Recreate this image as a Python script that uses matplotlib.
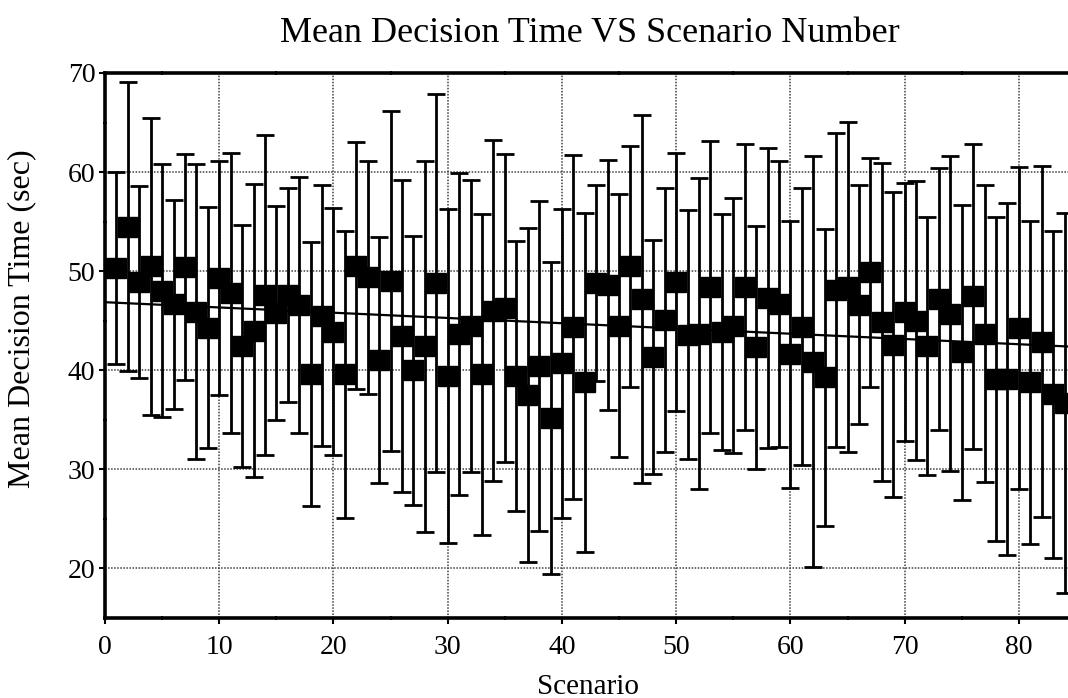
import numpy as np
import matplotlib
matplotlib.use("Agg")
import matplotlib.pyplot as plt
from matplotlib.ticker import MultipleLocator

# ---- data ----
scenario = list(range(1, 85))
mean_time = [50.3, 54.5, 48.9, 50.5, 48.05, 46.65, 50.4, 45.9, 44.3, 49.3,
             47.8, 42.45, 44.0, 47.55, 45.8, 47.6, 46.6, 39.6, 45.5, 43.9,
             39.6, 50.55, 49.4, 41.05, 49.05, 43.5, 40.0, 42.4, 48.8, 39.4,
             43.7, 44.45, 39.6, 46.0, 46.3, 39.4, 37.5, 40.4, 35.2, 40.7,
             44.4, 38.8, 48.8, 48.6, 44.5, 50.5, 47.2, 41.3, 45.1, 48.9,
             43.6, 43.7, 48.4, 43.85, 44.5, 48.4, 42.3, 47.3, 46.7, 41.6,
             44.4, 40.85, 39.3, 48.1, 48.4, 46.6, 49.9, 44.85, 42.6, 45.9,
             45.0, 42.45, 47.2, 45.7, 41.8, 47.45, 43.7, 39.1, 39.15, 44.25,
             38.8, 42.9, 37.6, 36.7]
std_time = [9.7, 14.6, 9.7, 15.0, 12.75, 10.55, 11.4, 14.9, 12.15, 11.8,
            14.15, 12.25, 14.75, 16.15, 10.8, 10.8, 12.95, 13.3, 13.15, 12.45,
            14.5, 12.45, 11.75, 12.45, 17.15, 15.75, 13.55, 18.7, 19.1, 16.85,
            16.25, 14.75, 16.2, 17.2, 15.55, 13.6, 16.85, 16.65, 15.75, 15.6,
            17.35, 17.1, 9.9, 12.6, 13.3, 12.15, 18.6, 11.8, 13.3, 13.0,
            12.6, 15.7, 14.75, 11.9, 12.85, 14.45, 12.25, 15.1, 14.45, 13.5,
            13.95, 20.75, 15.0, 15.8, 16.65, 12.05, 11.55, 16.05, 15.35, 13.0,
            14.1, 13.0, 13.25, 15.9, 14.9, 15.35, 14.95, 16.35, 17.75, 16.25,
            16.3, 17.7, 16.5, 19.15]
trend_x = [0, 84.3]

title = "Mean Decision Time VS Scenario Number"
xlabel = "Scenario"
ylabel = "Mean Decision Time (sec)"

# ---- figure ----
W, H = 1068, 698
fig = plt.figure(figsize=(W / 100, H / 100), dpi=100)
ax = fig.add_axes([105 / W, 80 / H, (W - 105) / W, 545 / H])

serif = ["Liberation Serif", "DejaVu Serif"]

x = np.array(scenario, dtype=float)
y = np.array(mean_time)
e = np.array(std_time)

ax.errorbar(x, y, yerr=e, fmt="none", ecolor="black", elinewidth=2.0,
            capsize=6.5, capthick=2.0, zorder=3)
ax.plot(x, y, linestyle="none", marker="s", markersize=14,
        markerfacecolor="black", markeredgecolor="black", zorder=4)

# linear trend fitted from the data
coef = np.polyfit(x, y, 1)
tx = np.array(trend_x)
ax.plot(tx, np.polyval(coef, tx), color="black", lw=1.6, zorder=5)

ax.set_xlim(0, 84.3)
ax.set_ylim(15, 70)
ax.xaxis.set_major_locator(MultipleLocator(10))
ax.xaxis.set_minor_locator(MultipleLocator(5))
ax.yaxis.set_major_locator(MultipleLocator(10))
ax.yaxis.set_minor_locator(MultipleLocator(5))

ax.grid(True, which="major", color="0.25", linestyle=(0, (1, 1)), lw=1.1,
        zorder=1)
ax.set_axisbelow(True)

for s in ["left", "bottom", "top"]:
    ax.spines[s].set_linewidth(2.6)
ax.spines["right"].set_visible(False)

ax.tick_params(which="major", direction="out", length=4, width=1.5,
               labelsize=20, top=False, right=False)
ax.tick_params(axis="x", which="major", pad=8)
ax.tick_params(axis="y", which="major", pad=3)
ax.tick_params(which="minor", direction="inout", length=3, width=1.5,
               top=True)
for lab in ax.get_xticklabels() + ax.get_yticklabels():
    lab.set_family(serif)

fig.text(588 / W, 1 - 694 / H, xlabel, ha="center", va="baseline",
         fontsize=21, family=serif)
fig.text(22 / W, 1 - 319 / H, ylabel, ha="center", va="center",
         rotation=90, fontsize=23, family=serif)
fig.text(590 / W, 1 - 34 / H, title, ha="center", va="center",
         fontsize=26, family=serif)

fig.savefig("out.png", dpi=100)
